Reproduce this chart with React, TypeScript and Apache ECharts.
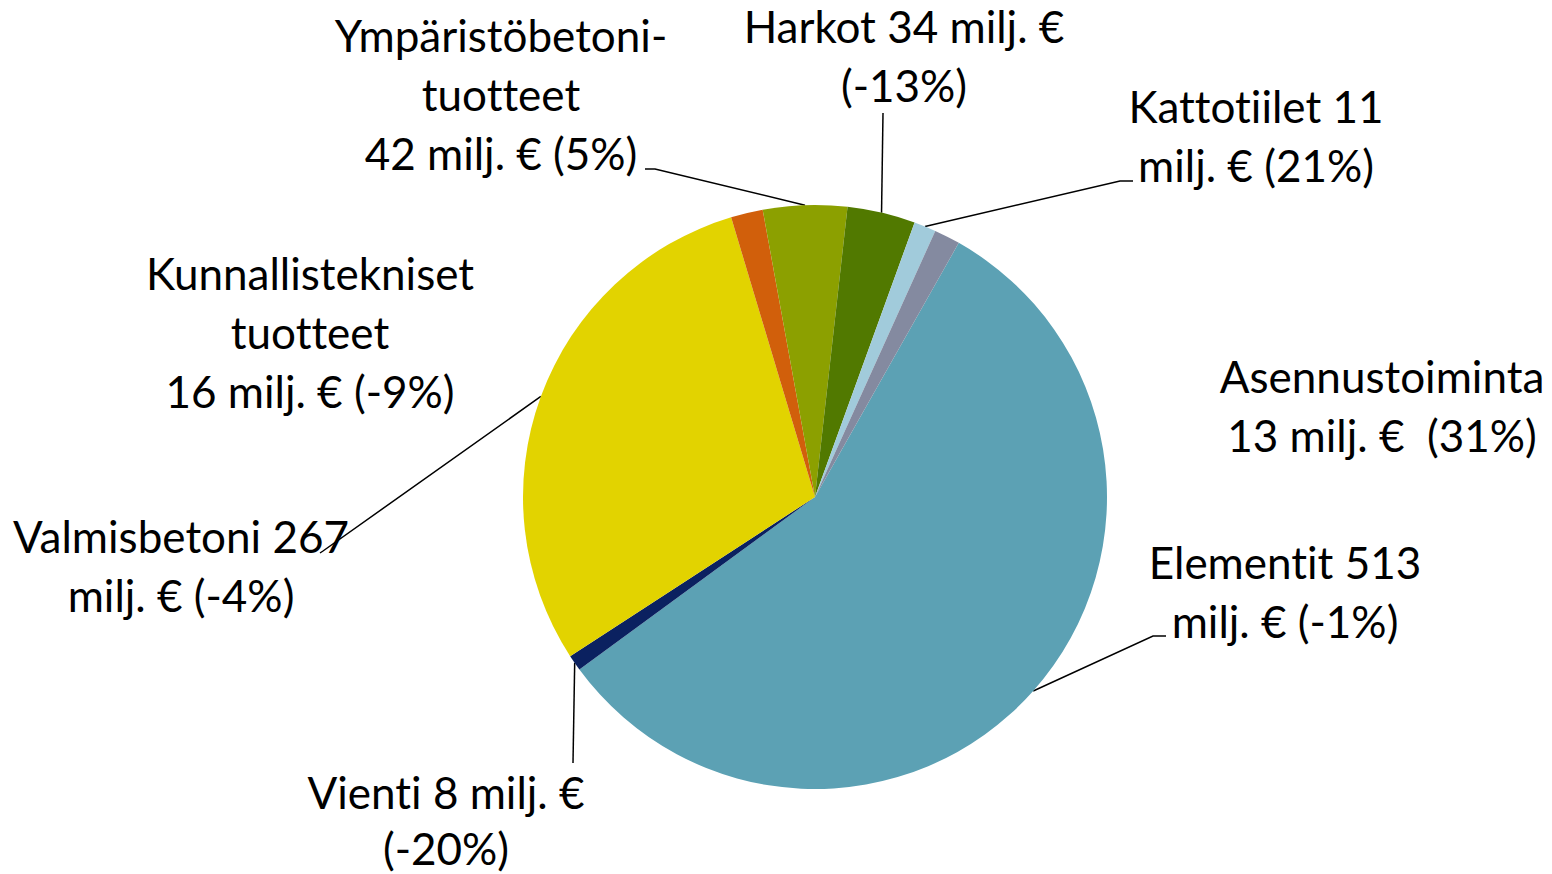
import React, { useEffect, useRef } from 'react';
import * as echarts from 'echarts';

// ---- data ----
const categories = [
  'Elementit',
  'Vienti',
  'Valmisbetoni',
  'Kunnallistekniset tuotteet',
  'Ympäristöbetonituotteet',
  'Harkot',
  'Kattotiilet',
  'Asennustoiminta',
];
const values = [513, 8, 267, 16, 42, 34, 11, 13];
const changes = ['-1%', '-20%', '-4%', '-9%', '5%', '-13%', '21%', '31%'];
const labelTemplates = [
  'Elementit {v}\nmilj. € ({c})',
  'Vienti {v} milj. €\n({c})',
  'Valmisbetoni {v}\nmilj. € ({c})',
  'Kunnallistekniset\ntuotteet\n{v} milj. € ({c})',
  'Ympäristöbetoni-\ntuotteet\n{v} milj. € ({c})',
  'Harkot {v} milj. €\n({c})',
  'Kattotiilet {v}\nmilj. € ({c})',
  'Asennustoiminta\n{v} milj. €  ({c})',
];
const colors = ['#5CA1B4', '#0B2160', '#E2D300', '#D15F0B', '#8CA000', '#517900', '#A1CBDB', '#848AA0'];

// ---- layout (styling only) ----
const labelCenters: [number, number][] = [
  [1285, 591],
  [446, 820],
  [181, 565],
  [310, 332],
  [501, 94],
  [904, 55],
  [1256, 135],
  [1382, 405],
];
const labelLineHeights = [59, 56, 59, 59, 59, 59, 59, 59];
// label-line bends / ends (null = no line)
const lineEnds: ([number, number][] | null)[] = [
  [[1153, 636], [1166, 636]],
  [[573, 763], [573, 763]],
  [[323, 551], [320, 553]],
  null,
  [[655, 169], [645, 169]],
  [[883, 113], [883, 113]],
  [[1120, 181], [1133, 181]],
  null,
];

export default function App() {
  const ref = useRef<HTMLDivElement>(null);
  useEffect(() => {
    document.body.style.margin = '0';
    if (!ref.current) return;
    const chart = echarts.init(ref.current, undefined, { renderer: 'svg' });
    const data = categories.map((name, i) => ({
      name,
      value: values[i],
      itemStyle: { color: colors[i] },
      label: { lineHeight: labelLineHeights[i] },
      labelLine: { show: lineEnds[i] !== null },
    }));
    chart.setOption({
      animation: false,
      backgroundColor: '#ffffff',
      series: [
        {
          type: 'pie',
          center: [815, 497],
          radius: [0, 292],
          startAngle: 60.5,
          clockwise: true,
          avoidLabelOverlap: false,
          itemStyle: { borderWidth: 0 },
          emphasis: { disabled: true },
          label: {
            show: true,
            position: 'outside',
            color: '#000000',
            fontFamily: 'Lato',
            fontSize: 44,
            lineHeight: 59,
            align: 'center',
            formatter: (p: any) =>
              labelTemplates[p.dataIndex]
                .replace('{v}', String(values[p.dataIndex]))
                .replace('{c}', changes[p.dataIndex]),
          },
          labelLine: {
            show: true,
            length: 20,
            length2: 20,
            lineStyle: { color: '#000000', width: 1.5 },
          },
          labelLayout: (params: any) => {
            const i = params.dataIndex;
            const [x, y] = labelCenters[i];
            const out: any = { x, y, align: 'center', verticalAlign: 'middle' };
            const ends = lineEnds[i];
            if (ends && params.labelLinePoints) {
              out.labelLinePoints = [params.labelLinePoints[0], ends[0], ends[1]];
            }
            return out;
          },
          data,
        },
      ],
    });
    return () => chart.dispose();
  }, []);
  return (
    <div
      ref={ref}
      style={{ width: 1552, height: 874, fontVariantLigatures: 'none', fontFeatureSettings: '"liga" 0' } as any}
    />
  );
}
